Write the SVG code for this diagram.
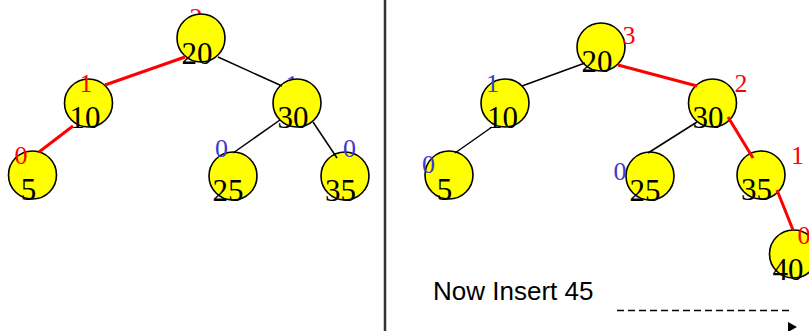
<svg xmlns="http://www.w3.org/2000/svg" width="809" height="331" viewBox="0 0 809 331">
  <style>
    .ball { fill: #ffff00; stroke: #000; stroke-width: 1.6; }
    .key { font-family: "Liberation Serif", "Times New Roman", serif; font-size: 31px; fill: #000; text-anchor: middle; }
    .h { font-family: "Liberation Serif", "Times New Roman", serif; font-size: 26px; text-anchor: middle; }
    .hr { fill: #ff0000; }
    .hb { fill: #3a3ad0; }
    .edge { stroke: #000; stroke-width: 1.5; fill: none; }
    .path { stroke: #ff0000; stroke-width: 3; fill: none; }
    .caption { font-family: "Liberation Sans", Arial, sans-serif; font-size: 26px; fill: #000; }
  </style>
  <rect width="809" height="331" fill="#fff"/>

  <!-- divider between the two trees -->
  <line x1="385" y1="0" x2="385" y2="331" stroke="#333" stroke-width="2.5"/>

  <!-- left tree -->
  <g id="L20">
    <text class="h hr" x="196" y="26">2</text>
    <circle class="ball" cx="201" cy="38" r="24"/>
    <text class="key" x="197" y="64">20</text>
  </g>
  <g id="L10">
    <circle class="ball" cx="88.5" cy="103" r="24"/>
    <text class="key" x="85" y="128">10</text>
    <text class="h hr" x="86" y="92">1</text>
  </g>
  <g id="L30">
    <text class="h hb" x="292" y="93">1</text>
    <circle class="ball" cx="297" cy="103" r="24"/>
    <text class="key" x="293" y="128">30</text>
  </g>
  <g id="L5">
    <circle class="ball" cx="32.5" cy="175" r="24"/>
    <text class="key" x="28.5" y="200">5</text>
    <text class="h hr" x="21" y="164">0</text>
  </g>
  <g id="L25">
    <circle class="ball" cx="233" cy="176" r="24"/>
    <text class="key" x="228" y="201">25</text>
    <text class="h hb" x="221.5" y="157">0</text>
  </g>
  <g id="L35">
    <circle class="ball" cx="345" cy="176" r="24"/>
    <text class="key" x="340.5" y="201">35</text>
    <text class="h hb" x="349.5" y="157">0</text>
  </g>

  <!-- right tree -->
  <g id="R20">
    <circle class="ball" cx="601" cy="47" r="24"/>
    <text class="key" x="597" y="72">20</text>
    <text class="h hr" x="629" y="44">3</text>
  </g>
  <g id="R10">
    <circle class="ball" cx="505" cy="103" r="24"/>
    <text class="key" x="502.5" y="128">10</text>
    <text class="h hb" x="492.5" y="92">1</text>
  </g>
  <g id="R30">
    <circle class="ball" cx="712.5" cy="103" r="24"/>
    <text class="key" x="708" y="128">30</text>
    <text class="h hr" x="741" y="92">2</text>
  </g>
  <g id="R5">
    <circle class="ball" cx="449" cy="175" r="24"/>
    <text class="key" x="444.5" y="200">5</text>
    <text class="h hb" x="428.5" y="173">0</text>
  </g>
  <g id="R25">
    <circle class="ball" cx="650" cy="176" r="24"/>
    <text class="key" x="645" y="201">25</text>
    <text class="h hb" x="620" y="180">0</text>
  </g>
  <g id="R35">
    <circle class="ball" cx="761" cy="175" r="24"/>
    <text class="key" x="756.5" y="200">35</text>
    <text class="h hr" x="797.5" y="164">1</text>
  </g>
  <g id="R40">
    <circle class="ball" cx="793.5" cy="254" r="24"/>
    <text class="key" x="788" y="280">40</text>
    <text class="h hr" x="804" y="244">0</text>
  </g>

  <!-- connectors -->
  <g id="connectors">
    <line class="path" x1="185" y1="57" x2="105" y2="85"/>
    <line class="path" x1="73" y1="126" x2="39" y2="152"/>
    <line class="edge" x1="218" y1="57" x2="282" y2="86"/>
    <line class="edge" x1="280" y1="120" x2="233" y2="153"/>
    <line class="edge" x1="313" y1="122" x2="337" y2="158"/>

    <line class="edge" x1="585" y1="63" x2="522" y2="86"/>
    <line class="path" x1="618" y1="65" x2="697" y2="86"/>
    <line class="edge" x1="492" y1="127" x2="455" y2="153"/>
    <line class="edge" x1="697" y1="122" x2="648" y2="153"/>
    <line class="path" x1="728" y1="117" x2="753" y2="158"/>
    <line class="path" x1="777" y1="190" x2="793" y2="230"/>

    <line x1="617" y1="310.5" x2="792" y2="310.5" stroke="#000" stroke-width="1.5" stroke-dasharray="7 4"/>
    <polygon points="788,322 797,327 788,332" fill="#000"/>
  </g>

  <text class="caption" x="433" y="300">Now Insert 45</text>
</svg>
